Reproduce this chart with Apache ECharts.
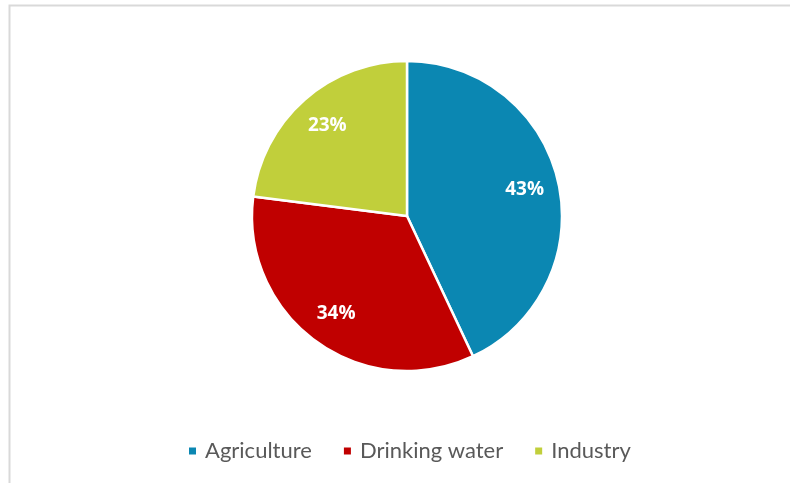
<!DOCTYPE html>
<html>
<head>
<meta charset="utf-8">
<script src="https://cdn.jsdelivr.net/npm/echarts@6/dist/echarts.min.js"></script>
<style>
  html, body { margin: 0; padding: 0; background: #fff; }
  #chart { width: 790px; height: 483px; }
</style>
</head>
<body>
<div id="chart"></div>
<script>
var categories = ['Agriculture', 'Drinking water', 'Industry'];
var shares = [43, 34, 23];
var colors = ['#0b87b2', '#c00000', '#c1cf3b'];

var pieData = categories.map(function (name, i) {
    return { name: name, value: shares[i], itemStyle: { color: colors[i] } };
});

var myChart = echarts.init(document.getElementById('chart'));

var option = {
    animation: false,
    // chart frame (only left and top edges fall inside the picture)
    graphic: [{
        type: 'rect',
        shape: { x: 9.5, y: 5.5, width: 820, height: 520 },
        style: { fill: null, stroke: '#d9d9d9', lineWidth: 2 },
        silent: true
    }],
    legend: {
        data: categories,
        top: 440,
        left: 187,
        padding: 0,
        icon: 'rect',
        itemWidth: 9,
        itemHeight: 9,
        itemGap: 30,
        textStyle: { fontFamily: 'Lato', fontSize: 22, color: '#595959', padding: [0, 0, 0, 3] }
    },
    series: [{
        type: 'pie',
        center: [407, 216],
        radius: 155,
        startAngle: 90,
        clockwise: true,
        itemStyle: { borderColor: '#fff', borderWidth: 2.5 },
        label: { show: false },
        labelLine: { show: false },
        data: pieData
    }, {
        // transparent ring only used to place the percentage labels
        type: 'pie',
        center: [407, 216],
        radius: [80, 155],
        startAngle: 90,
        clockwise: true,
        silent: true,
        itemStyle: { color: 'rgba(0,0,0,0)' },
        label: {
            show: true,
            position: 'inside',
            formatter: '{c}%',
            color: '#fff',
            fontFamily: 'Open Sans',
            fontWeight: 'bold',
            fontSize: 19
        },
        labelLine: { show: false },
        data: categories.map(function (name, i) {
            return { name: name, value: shares[i] };
        })
    }]
};

myChart.setOption(option);
</script>
</body>
</html>
